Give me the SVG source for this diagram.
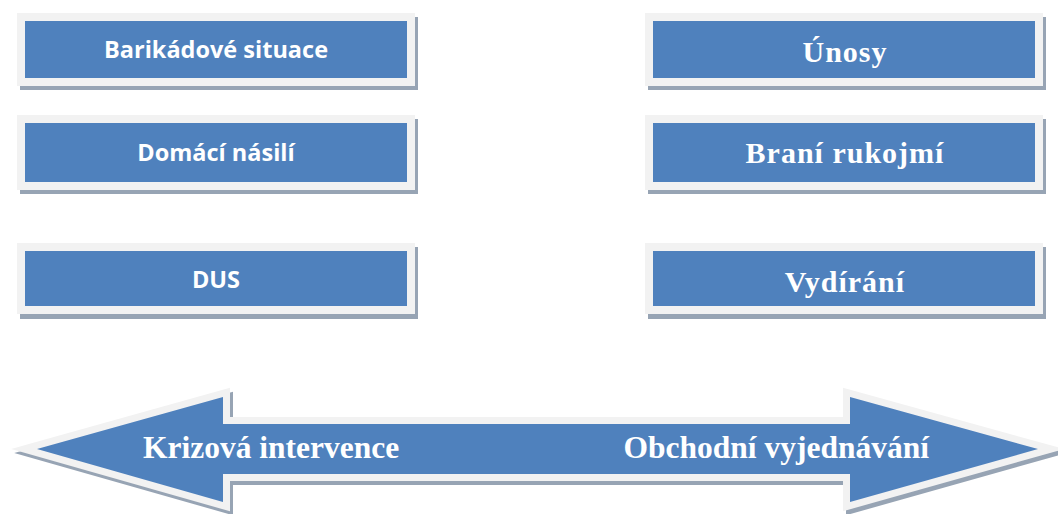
<svg xmlns="http://www.w3.org/2000/svg" width="1058" height="514" viewBox="0 0 1058 514">
<style>
.shadow{fill:#97a4b4}
.frame{fill:#f2f2f2}
.blue{fill:#4f81bd}
.ts{font-family:"Open Sans","Liberation Sans",sans-serif;font-weight:bold;font-size:23.5px;fill:#ffffff;text-anchor:middle}
.tr{font-family:"Liberation Serif","Times New Roman",serif;font-weight:bold;font-size:30px;letter-spacing:1px;fill:#ffffff;text-anchor:middle}
.ta{font-family:"Liberation Serif","Times New Roman",serif;font-weight:bold;font-size:31.5px;fill:#ffffff}
</style>
<rect width="1058" height="514" fill="#ffffff"/>
<g id="n-barikadove">
<rect class="shadow" x="20" y="17" width="398" height="73"/>
<rect class="frame" x="17" y="13" width="398" height="73"/>
<rect class="blue" x="25" y="21" width="382" height="57"/>
<text class="ts" x="216" y="58">Barikádové situace</text>
</g>
<g id="n-domaci">
<rect class="shadow" x="20" y="119" width="398" height="75"/>
<rect class="frame" x="17" y="115" width="398" height="75"/>
<rect class="blue" x="25" y="123" width="382" height="59"/>
<text class="ts" x="216" y="161">Domácí násilí</text>
</g>
<g id="n-dus">
<rect class="shadow" x="20" y="247" width="398" height="72"/>
<rect class="frame" x="17" y="243" width="398" height="71"/>
<rect class="blue" x="25" y="251" width="382" height="55"/>
<text class="ts" x="216" y="288">DUS</text>
</g>
<g id="n-unosy">
<rect class="shadow" x="648" y="17" width="398" height="73"/>
<rect class="frame" x="645" y="13" width="398" height="73"/>
<rect class="blue" x="653" y="21" width="382" height="57"/>
<text class="tr" x="845" y="62">Únosy</text>
</g>
<g id="n-brani">
<rect class="shadow" x="648" y="119" width="398" height="75"/>
<rect class="frame" x="645" y="115" width="398" height="75"/>
<rect class="blue" x="653" y="123" width="382" height="59"/>
<text class="tr" x="845" y="163">Braní rukojmí</text>
</g>
<g id="n-vydirani">
<rect class="shadow" x="648" y="247" width="398" height="72"/>
<rect class="frame" x="645" y="243" width="398" height="71"/>
<rect class="blue" x="653" y="251" width="382" height="55"/>
<text class="tr" x="845" y="292">Vydírání</text>
</g>
<g id="connectors">
<g id="double-arrow">
<path transform="translate(3,4)" d="M37,449 L223,397 L223,424 L850,424 L850,397 L1038,449 L850,502 L850,474 L223,474 L223,502 Z" fill="#97a4b4" stroke="#97a4b4" stroke-width="14" stroke-linejoin="miter" stroke-miterlimit="10"/>
<path d="M37,449 L223,397 L223,424 L850,424 L850,397 L1038,449 L850,502 L850,474 L223,474 L223,502 Z" fill="#4f81bd" stroke="#f2f2f2" stroke-width="14" stroke-linejoin="miter" stroke-miterlimit="10" paint-order="stroke"/>
<text class="ta" x="143" y="458">Krizová intervence</text>
<text class="ta" x="929" y="458" text-anchor="end">Obchodní vyjednávání</text>
</g>
</g>
</svg>
